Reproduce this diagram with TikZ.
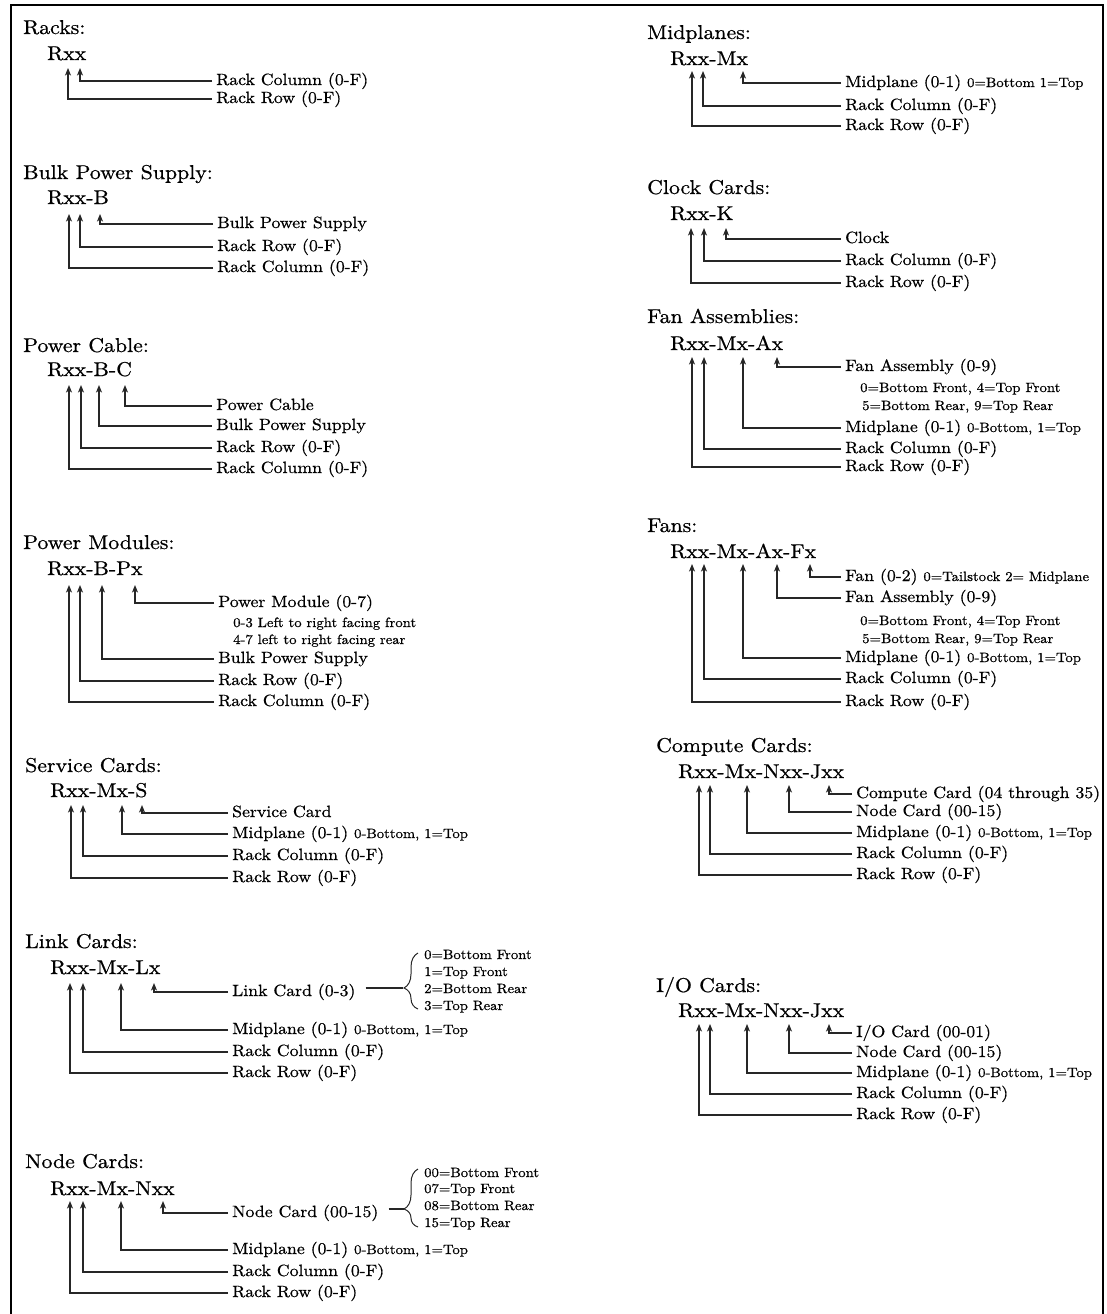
\documentclass[tikz,border=0pt]{standalone}
\usepackage{fontspec}
\setmainfont{lmroman10-regular.otf}[FakeStretch=1.09,FakeBold=0.7]
\usetikzlibrary{arrows.meta,decorations.pathreplacing}
\newcommand\myTitleFont{\fontsize{20}{24}\selectfont}
\newcommand\myLblFont{\fontsize{16.3}{19}\selectfont}
\newcommand\myNoteFont{\fontsize{13.5}{16}\selectfont}
\newcommand\fieldarrow[6]{%
  \coordinate (#1t) at (#2,#3);
  \node[lbl] (#1) at (#4,#5) {#6};
  \draw[conn] (#1.west) -| (#1t);
}
\tikzset{
  conn/.style={draw=black!85, line width=1.1pt, -{Stealth[length=7.5pt,width=6pt,inset=2pt]}},
  plain/.style={draw=black!85, line width=1.1pt},
  frame/.style={draw=black, line width=1.2pt},
  lbl/.style={anchor=west, inner xsep=4pt, inner ysep=0pt, text height=12pt, text depth=4pt, font=\myLblFont},
  ttl/.style={anchor=base west, inner sep=0pt, font=\myTitleFont},
  code/.style={anchor=base west, inner sep=0pt, font=\myTitleFont},
  note/.style={anchor=base west, inner sep=0pt, font=\myNoteFont},
  brc/.style={draw=black!85, line width=1pt, decorate, decoration={brace, amplitude=14pt, aspect=#1}},
}
\begin{document}
\begin{tikzpicture}[x=1pt,y=-1pt]
\useasboundingbox (0,0) rectangle (1106,1314);
\draw[frame] (11,1314) -- (11,5) -- (1103,5) -- (1103,1314);

% ---------------- Racks
\node[ttl] (t1) at (23,34) {Racks:};
\node[code] (c1) at (47,60) {Rxx};
\fieldarrow{rcol}{80}{68}{212}{81}{Rack Column (0-F)}
\fieldarrow{rrow}{68}{68}{212}{99}{Rack Row (0-F)}

% ---------------- Bulk Power Supply
\node[ttl] (t2) at (23,179) {Bulk Power Supply:};
\node[code] (c2) at (47,204) {Rxx-B};
\fieldarrow{bbps}{100}{214}{213}{224}{Bulk Power Supply}
\fieldarrow{brow}{80}{214}{213}{247}{Rack Row (0-F)}
\fieldarrow{bcol}{69}{214}{213}{268}{Rack Column (0-F)}

% ---------------- Power Cable
\node[ttl] (t3) at (23,352) {Power Cable:};
\node[code] (c3) at (47,376) {Rxx-B-C};
\fieldarrow{pcpc}{125}{385}{212}{406}{Power Cable}
\fieldarrow{pcbps}{99}{385}{212}{426}{Bulk Power Supply}
\fieldarrow{pcrow}{81}{385}{212}{448}{Rack Row (0-F)}
\fieldarrow{pccol}{69}{385}{212}{469}{Rack Column (0-F)}

% ---------------- Power Modules
\node[ttl] (t4) at (23,549) {Power Modules:};
\node[code] (c4) at (47,575) {Rxx-B-Px};
\fieldarrow{pmpm}{135}{585}{214}{603}{Power Module (0-7)}
\node[note] (pmn1) at (233,627) {0-3 Left to right facing front};
\node[note] (pmn2) at (233,644) {4-7 left to right facing rear};
\fieldarrow{pmbps}{102}{585}{214}{659}{Bulk Power Supply}
\fieldarrow{pmrow}{80}{585}{214}{681}{Rack Row (0-F)}
\fieldarrow{pmcol}{69}{585}{214}{702}{Rack Column (0-F)}

% ---------------- Service Cards
\node[ttl] (t5) at (25,772) {Service Cards:};
\node[code] (c5) at (50,797) {Rxx-Mx-S};
\fieldarrow{scsc}{142}{805}{228}{813}{Service Card}
\fieldarrow{scmp}{122}{805}{228}{834}{Midplane (0-1) {\myNoteFont 0-Bottom, 1=Top}}
\fieldarrow{sccol}{83}{805}{228}{856}{Rack Column (0-F)}
\fieldarrow{scrow}{71}{805}{228}{878}{Rack Row (0-F)}

% ---------------- Link Cards
\node[ttl] (t6) at (25,948) {Link Cards:};
\node[code] (c6) at (50,974) {Rxx-Mx-Lx};
\fieldarrow{lclc}{154}{983}{228}{992}{Link Card (0-3)}
\coordinate (lcbr) at (403,988);
\path ([xshift=6pt]lclc.east) coordinate (lcs);
\draw[plain] (lcs |- lcbr) -- (lcbr);
\draw[brc=0.375] (418,1009) -- (418,953);
\node[note] (lco1) at (424,959) {0=Bottom Front};
\node[note] (lco2) at (424,976) {1=Top Front};
\node[note] (lco3) at (424,993) {2=Bottom Rear};
\node[note] (lco4) at (424,1010) {3=Top Rear};
\fieldarrow{lcmp}{121}{983}{228}{1030}{Midplane (0-1) {\myNoteFont 0-Bottom, 1=Top}}
\fieldarrow{lccol}{83}{983}{228}{1052}{Rack Column (0-F)}
\fieldarrow{lcrow}{70}{983}{228}{1073}{Rack Row (0-F)}

% ---------------- Node Cards
\node[ttl] (t7) at (25,1168) {Node Cards:};
\node[code] (c7) at (50,1195) {Rxx-Mx-Nxx};
\fieldarrow{ncnc}{163}{1201}{228}{1213}{Node Card (00-15)}
\coordinate (ncbr) at (404,1209);
\path ([xshift=6pt]ncnc.east) coordinate (ncs);
\draw[plain] (ncs |- ncbr) -- (ncbr);
\draw[brc=0.31] (418,1227) -- (418,1169);
\node[note] (nco1) at (424,1177) {00=Bottom Front};
\node[note] (nco2) at (424,1193) {07=Top Front};
\node[note] (nco3) at (424,1210) {08=Bottom Rear};
\node[note] (nco4) at (424,1227) {15=Top Rear};
\fieldarrow{ncmp}{121}{1201}{228}{1250}{Midplane (0-1) {\myNoteFont 0-Bottom, 1=Top}}
\fieldarrow{nccol}{83}{1201}{228}{1272}{Rack Column (0-F)}
\fieldarrow{ncrow}{70}{1201}{228}{1293}{Rack Row (0-F)}

% ---------------- Midplanes
\node[ttl] (t8) at (647,39) {Midplanes:};
\node[code] (c8) at (670,65) {Rxx-Mx};
\fieldarrow{mmp}{743}{71}{841}{83}{Midplane (0-1) {\myNoteFont 0=Bottom 1=Top}}
\fieldarrow{mcol}{703}{71}{841}{106}{Rack Column (0-F)}
\fieldarrow{mrow}{692}{71}{841}{126}{Rack Row (0-F)}

% ---------------- Clock Cards
\node[ttl] (t9) at (647,194) {Clock Cards:};
\node[code] (c9) at (670,220) {Rxx-K};
\fieldarrow{kclk}{726}{228}{841}{239}{Clock}
\fieldarrow{kcol}{704}{228}{841}{261}{Rack Column (0-F)}
\fieldarrow{krow}{691}{228}{841}{283}{Rack Row (0-F)}

% ---------------- Fan Assemblies
\node[ttl] (t10) at (647,323) {Fan Assemblies:};
\node[code] (c10) at (670,350) {Rxx-Mx-Ax};
\fieldarrow{fafa}{777}{357}{841}{367}{Fan Assembly (0-9)}
\node[note] (fan1) at (860,392) {0=Bottom Front, 4=Top Front};
\node[note] (fan2) at (862,410) {5=Bottom Rear, 9=Top Rear};
\fieldarrow{famp}{743}{357}{841}{428}{Midplane (0-1) {\myNoteFont 0-Bottom, 1=Top}}
\fieldarrow{facol}{704}{357}{841}{449}{Rack Column (0-F)}
\fieldarrow{farow}{692}{357}{841}{467}{Rack Row (0-F)}

% ---------------- Fans
\node[ttl] (t11) at (647,532) {Fans:};
\node[code] (c11) at (670,558) {Rxx-Mx-Ax-Fx};
\fieldarrow{ffan}{810}{564}{841}{577}{Fan (0-2) {\myNoteFont 0=Tailstock 2= Midplane}}
\fieldarrow{ffa}{777}{564}{841}{598}{Fan Assembly (0-9)}
\node[note] (ffn1) at (860,625) {0=Bottom Front, 4=Top Front};
\node[note] (ffn2) at (862,643) {5=Bottom Rear, 9=Top Rear};
\fieldarrow{fmp}{743}{564}{841}{658}{Midplane (0-1) {\myNoteFont 0-Bottom, 1=Top}}
\fieldarrow{fcol}{704}{564}{841}{679}{Rack Column (0-F)}
\fieldarrow{frow}{692}{564}{841}{702}{Rack Row (0-F)}

% ---------------- Compute Cards
\node[ttl] (t12) at (656,752) {Compute Cards:};
\node[code] (c12) at (678,778) {Rxx-Mx-Nxx-Jxx};
\fieldarrow{cccc}{829}{785}{852}{794}{Compute Card (04 through 35)}
\fieldarrow{ccnc}{789}{785}{852}{812}{Node Card (00-15)}
\fieldarrow{ccmp}{747}{785}{852}{833}{Midplane (0-1) {\myNoteFont 0-Bottom, 1=Top}}
\fieldarrow{cccol}{710}{785}{852}{854}{Rack Column (0-F)}
\fieldarrow{ccrow}{699}{785}{852}{875}{Rack Row (0-F)}

% ---------------- I/O Cards
\node[ttl] (t13) at (656,992) {I/O Cards:};
\node[code] (c13) at (678,1017) {Rxx-Mx-Nxx-Jxx};
\fieldarrow{ioio}{829}{1024}{852}{1033}{I/O Card (00-01)}
\fieldarrow{ionc}{789}{1024}{852}{1053}{Node Card (00-15)}
\fieldarrow{iomp}{747}{1024}{852}{1073}{Midplane (0-1) {\myNoteFont 0-Bottom, 1=Top}}
\fieldarrow{iocol}{710}{1024}{852}{1094}{Rack Column (0-F)}
\fieldarrow{iorow}{699}{1024}{852}{1115}{Rack Row (0-F)}
\end{tikzpicture}
\end{document}
